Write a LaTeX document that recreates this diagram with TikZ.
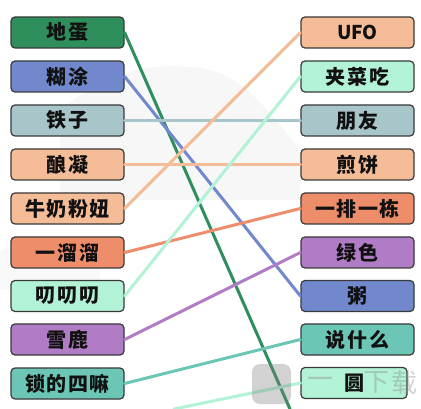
\documentclass[tikz,border=0pt]{standalone}
\usepackage{fontspec}
\newfontfamily\cjk{Noto Sans CJK SC}[LetterSpace=8]
\newfontfamily\cjkplain{Noto Sans CJK SC}
\usetikzlibrary{positioning}
\definecolor{cGreen}{HTML}{2E8F5C}
\definecolor{cBlue}{HTML}{7189CC}
\definecolor{cGray}{HTML}{A8C6C9}
\definecolor{cPeach}{HTML}{F5BC98}
\definecolor{cSalmon}{HTML}{EE8D6A}
\definecolor{cMint}{HTML}{B2F2D6}
\definecolor{cPurple}{HTML}{B07CC5}
\definecolor{cTeal}{HTML}{6CC6B5}
\definecolor{cBorder}{HTML}{3A3A3A}
\definecolor{cText}{HTML}{111111}
\tikzset{
  word/.style={draw=cBorder, line width=1.2pt, rounded corners=4pt,
    minimum width=113pt, minimum height=31pt, inner sep=0pt,
    text=cText, font=\cjk\bfseries\fontsize{20}{20}\selectfont},
  link/.style={line width=3pt, line cap=round},
  mark text/.style={text=gray, font=\cjkplain\fontsize{26}{26}\selectfont, inner sep=0pt},
}
\begin{document}
\begin{tikzpicture}[x=1pt,y=-1pt]
\useasboundingbox (0,0) rectangle (421,409);
\fill[white] (0,0) rectangle (421,409);
% faint background hills
\fill[gray!6] (60,110) .. controls (110,70) and (150,62) .. (200,68)
  .. controls (240,74) and (260,100) .. (300,150) -- (300,200) -- (60,200) -- cycle;
\fill[gray!5] (0,250) .. controls (30,240) and (60,245) .. (100,262) -- (100,290) -- (0,290) -- cycle;
% left column
\node[word, fill=cGreen]  (l1) at (67.5,32.5)  {地蛋};
\node[word, fill=cBlue]   (l2) at (67.5,76.5)  {糊涂};
\node[word, fill=cGray]   (l3) at (67.5,120.5) {铁子};
\node[word, fill=cPeach]  (l4) at (67.5,164.5) {酿凝};
\node[word, fill=cPeach]  (l5) at (67.5,208.5) {牛奶粉妞};
\node[word, fill=cSalmon] (l6) at (67.5,252.5) {一溜溜};
\node[word, fill=cMint]   (l7) at (67.5,296)   {叨叨叨};
\node[word, fill=cPurple] (l8) at (67.5,339.5) {雪鹿};
\node[word, fill=cTeal]   (l9) at (67.5,383.5) {锁的四嘛};
% right column
\node[word, fill=cPeach, font=\cjkplain\bfseries\fontsize{19}{19}\selectfont]  (r1) at (357.5,32.5)  {UFO};
\node[word, fill=cMint]   (r2) at (357.5,76.5)  {夹菜吃};
\node[word, fill=cGray]   (r3) at (357.5,120.5) {朋友};
\node[word, fill=cPeach]  (r4) at (357.5,164.5) {煎饼};
\node[word, fill=cSalmon] (r5) at (357.5,208.5) {一排一栋};
\node[word, fill=cPurple] (r6) at (357.5,252.5) {绿色};
\node[word, fill=cBlue]   (r7) at (357.5,296)   {粥};
\node[word, fill=cTeal]   (r8) at (357.5,339.5) {说什么};
\node[word, fill=cMint, minimum width=106pt] (r9) at (354,383) {圆};
% free ends below the picture
\coordinate (g1) at (290,409);
\coordinate (m1) at (174,409);
% connectors
\draw[link, cGreen]  (l1.east) -- (g1);
\draw[link, cBlue]   (l2.east) -- (r7.west);
\draw[link, cGray]   (l3.east) -- (r3.west);
\draw[link, cPeach]  (l4.east) -- (r4.west);
\draw[link, cPeach]  (l5.east) -- (r1.west);
\draw[link, cSalmon] (l6.east) -- (r5.west);
\draw[link, cMint]   (l7.east) -- (r2.west);
\draw[link, cPurple] (l8.east) -- (r6.west);
\draw[link, cTeal]   (l9.east) -- (r8.west);
\draw[link, cMint]   (m1) -- (r9.west);
% watermark
\begin{scope}[opacity=0.35]
\fill[gray, rounded corners=8pt] (252,364) rectangle (291,404);
\node[mark text] (wm1) at (320,383) {一};
\node[mark text] (wm2) at (376,383) {下};
\node[mark text] (wm3) at (404,383) {载};
\end{scope}
\end{tikzpicture}
\end{document}
